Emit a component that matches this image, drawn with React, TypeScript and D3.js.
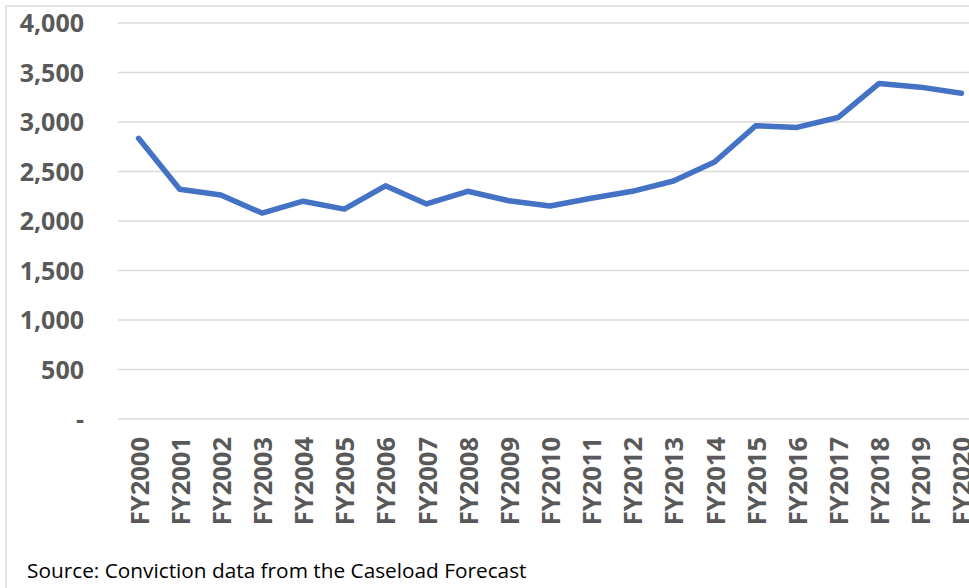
import React from "react";
import * as d3 from "d3";

const categories = ["FY2000","FY2001","FY2002","FY2003","FY2004","FY2005","FY2006","FY2007","FY2008","FY2009","FY2010","FY2011","FY2012","FY2013","FY2014","FY2015","FY2016","FY2017","FY2018","FY2019","FY2020"];
const values = [2835,2320,2262,2080,2200,2120,2355,2172,2300,2205,2152,2230,2300,2404,2596,2962,2945,3045,3390,3352,3290];
const yTicks = [0,500,1000,1500,2000,2500,3000,3500,4000];
const sourceText = "Source: Conviction data from the Caseload Forecast";

export default function App() {
  const W = 969, H = 588;
  const left = 118, right = 982, top = 23, bottom = 419;
  const x = d3.scaleBand<string>().domain(categories).range([left, right]);
  const y = d3.scaleLinear().domain([0, 4000]).range([bottom, top]);
  const line = d3.line<number>()
    .x((_, i) => (x(categories[i]) as number) + x.bandwidth() / 2)
    .y(d => y(d));
  const fmt = d3.format(",");
  return (
    <svg width={W} height={H} style={{ position: "absolute", left: 0, top: 0, background: "#fff" }}>
      <rect x={0} y={0} width={W} height={H} fill="#fff" />
      <line x1={6} x2={W} y1={6} y2={6} stroke="#d9d9d9" strokeWidth={1.5} />
      <line x1={6} x2={6} y1={6} y2={H} stroke="#d9d9d9" strokeWidth={1.5} />
      {yTicks.map(t => (
        <g key={t}>
          <line x1={left} x2={W} y1={y(t)} y2={y(t)} stroke="#d9d9d9" strokeWidth={1.5} />
          <text x={84} y={y(t)} dy="0.36em" textAnchor="end" fill="#595959"
            style={{ font: "bold 25px 'Open Sans'" }}>{t === 0 ? "-" : fmt(t)}</text>
        </g>
      ))}
      {categories.map(c => {
        const cx = (x(c) as number) + x.bandwidth() / 2;
        return (
          <text key={c} transform={`translate(${cx + 10},${437}) rotate(-90)`} textAnchor="end"
            fill="#595959" style={{ font: "bold 25.5px 'Open Sans'" }}>{c}</text>
        );
      })}
      <path d={line(values) || ""} fill="none" stroke="#4472c4" strokeWidth={5.5} strokeLinejoin="round" strokeLinecap="round" />
      <text x={27} y={578} fill="#000" style={{ font: "20.8px 'Open Sans'" }}>{sourceText}</text>
    </svg>
  );
}
